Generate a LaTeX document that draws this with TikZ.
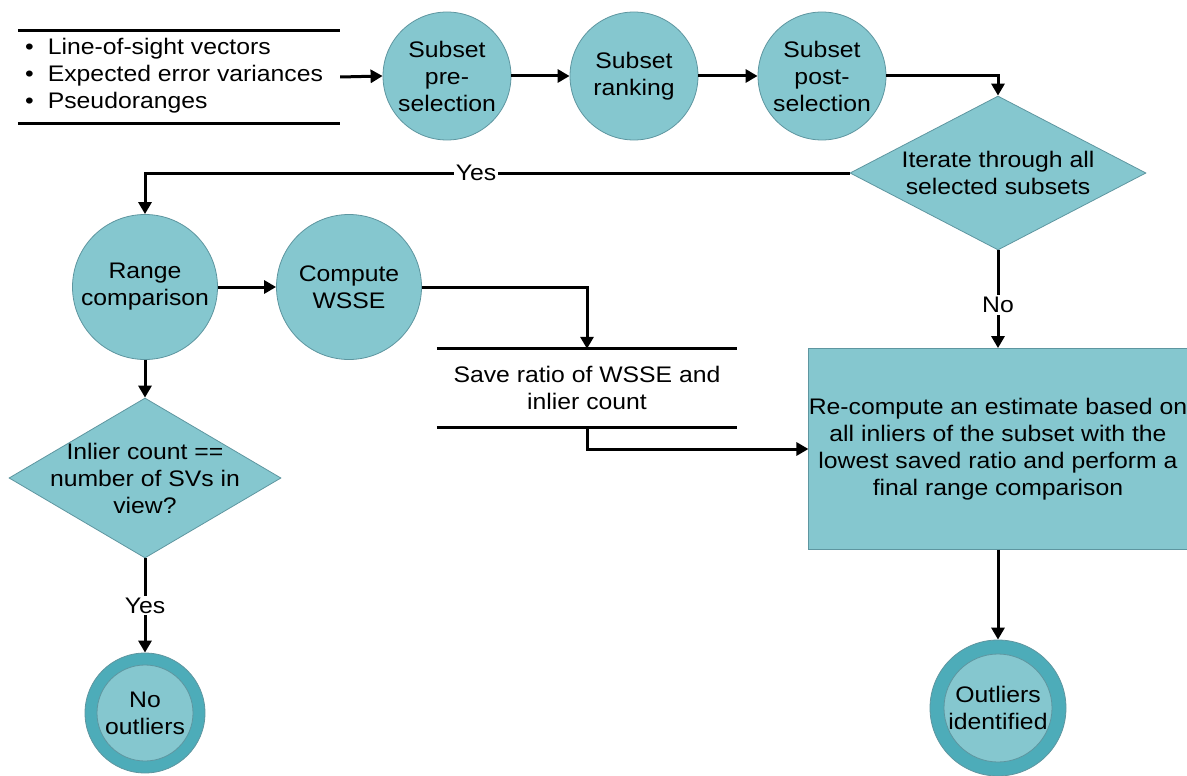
\documentclass[tikz,border=0pt]{standalone}
\usepackage{fontspec}
\setmainfont[FakeStretch=1.1]{Liberation Sans}
\usetikzlibrary{shapes.geometric,arrows.meta}
\definecolor{tfill}{RGB}{133,199,207}
\definecolor{tring}{RGB}{77,172,185}
\definecolor{tline}{RGB}{94,150,160}
\newcommand{\fsz}{\fontsize{22.5}{27}\selectfont}
\tikzset{
  proc/.style={circle, fill=tfill, draw=tline, line width=0.8pt, inner sep=0pt, align=center, font=\fsz},
  dec/.style={diamond, fill=tfill, draw=tline, line width=0.8pt, inner sep=0pt},
  dtext/.style={align=center, font=\fsz, inner sep=0pt},
  box/.style={rectangle, fill=tfill, draw=tline, line width=0.8pt, align=center, font=\fsz, inner xsep=0pt},
  frame/.style={inner sep=0pt},
  arr/.style={line width=3pt, -{Triangle[length=12pt,width=13pt]}},
  ln/.style={line width=3pt},
  lbl/.style={fill=white, font=\fsz, inner sep=2pt},
}
\begin{document}
\begin{tikzpicture}[x=1pt,y=-1pt]
\useasboundingbox (0,0) rectangle (1187,776);
% input list
\node[frame, minimum width=322pt, minimum height=92pt] (inp) at (179,77) {};
\node[anchor=west, align=left, font=\fsz, inner sep=0pt] (inptxt) at (25,76)
  {\textbullet\hspace{14pt}Line-of-sight vectors\\ \textbullet\hspace{14pt}Expected error variances\\ \textbullet\hspace{14pt}Pseudoranges};
\draw[ln] (inp.north west) -- (inp.north east);
\draw[ln] (inp.south west) -- (inp.south east);
% top circles
\node[proc, minimum size=128pt] (c1) at (447,76) {Subset\\pre-\\selection};
\node[proc, minimum size=128pt] (c2) at (634,76) {Subset\\ranking};
\node[proc, minimum size=128pt] (c3) at (822,76) {Subset\\post-\\selection};
% diamond 1
\node[dec, minimum width=296pt, minimum height=154pt] (d1) at (998,173) {};
\node[dtext] (d1t) at (d1) {Iterate through all\\selected subsets};
% second row
\node[proc, minimum size=145pt] (rc) at (145,287) {Range\\comparison};
\node[proc, minimum size=145pt] (cw) at (349,287) {Compute\\WSSE};
% save box
\node[frame, minimum width=300pt, minimum height=78pt] (save) at (587,388) {};
\node[dtext] (savet) at (587,388) {Save ratio of WSSE and\\inlier count};
\draw[ln] (save.north west) -- (save.north east);
\draw[ln] (save.south west) -- (save.south east);
% rectangle
\node[box, minimum width=378pt, minimum height=201pt] (rect) at (998,449)
  {Re-compute an estimate based on\\all inliers of the subset with the\\lowest saved ratio and perform a\\final range comparison};
% diamond 2
\node[dec, minimum width=272pt, minimum height=160pt] (d2) at (145,478) {};
\node[dtext] (d2t) at (d2) {Inlier count ==\\number of SVs in\\view?};
% terminal circles
\node[circle, fill=tring, draw=tline, line width=0.8pt, minimum size=120pt] (no) at (145,713) {};
\node[proc, minimum size=96pt] (noi) at (no) {No\\outliers};
\node[circle, fill=tring, draw=tline, line width=0.8pt, minimum size=136pt] (oid) at (998,708) {};
\node[proc, minimum size=108pt] (oidi) at (oid) {Outliers\\identified};
% connectors
\draw[arr] (inp.east) -- (c1.west);
\draw[arr] (c1.east) -- (c2.west);
\draw[arr] (c2.east) -- (c3.west);
\draw[arr] (c3.east) -| (d1.north);
\draw[arr] (d1.west) -| node[lbl, pos=0.265] {Yes} (rc.north);
\draw[arr] (d1.south) -- node[lbl, pos=0.56] {No} (rect.north);
\draw[arr] (rc.east) -- (cw.west);
\draw[arr] (cw.east) -| (save.north);
\draw[arr] (save.south) |- (rect.west);
\draw[arr] (rc.south) -- (d2.north);
\draw[arr] (d2.south) -- node[lbl, pos=0.5] {Yes} (no.north);
\draw[arr] (rect.south) -- (oid.north);
\end{tikzpicture}
\end{document}
